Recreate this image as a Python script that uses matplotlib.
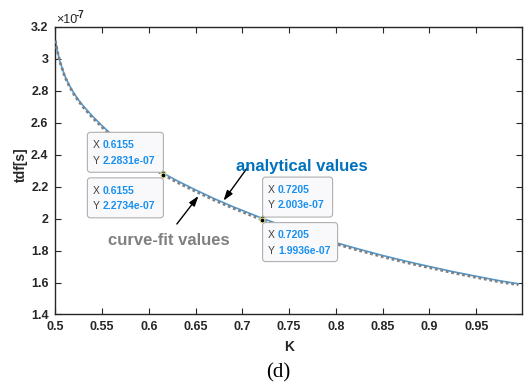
import matplotlib
matplotlib.use("Agg")
import matplotlib.pyplot as plt
from matplotlib.patches import FancyBboxPatch
from matplotlib.transforms import IdentityTransform

# K and tdf (units of 1e-7 s)
k_values = [0.5, 0.502, 0.505, 0.51, 0.515, 0.52, 0.525, 0.53, 0.54, 0.55,
            0.56, 0.57, 0.58, 0.59, 0.6, 0.6155, 0.63, 0.65, 0.67, 0.69,
            0.7205, 0.75, 0.775, 0.8, 0.825, 0.85, 0.875, 0.9, 0.925, 0.95,
            0.975, 0.995]
tdf_analytical = [3.112, 3.051, 2.980, 2.893, 2.832, 2.782, 2.740, 2.703, 2.638, 2.580,
                  2.526, 2.475, 2.428, 2.383, 2.342, 2.2831, 2.237, 2.179, 2.124, 2.074,
                  2.003, 1.941, 1.893, 1.849, 1.808, 1.769, 1.733, 1.700, 1.668, 1.639,
                  1.611, 1.592]
tdf_fit = [3.112, 3.049, 2.977, 2.888, 2.826, 2.775, 2.733, 2.695, 2.629, 2.571,
           2.517, 2.466, 2.419, 2.374, 2.332, 2.2734, 2.227, 2.170, 2.115, 2.065,
           1.9936, 1.932, 1.885, 1.841, 1.800, 1.761, 1.725, 1.693, 1.661, 1.632,
           1.604, 1.586]

# data tips
tip_k = [0.6155, 0.7205]
tip_analytical = [2.2831, 2.003]
tip_fit = [2.2734, 1.9936]
tip_analytical_text = ["2.2831e-07", "2.003e-07"]
tip_fit_text = ["2.2734e-07", "1.9936e-07"]

x_ticks = [0.5, 0.55, 0.6, 0.65, 0.7, 0.75, 0.8, 0.85, 0.9, 0.95]
x_tick_labels = ["0.5", "0.55", "0.6", "0.65", "0.7", "0.75", "0.8", "0.85", "0.9", "0.95"]
y_ticks = [1.4, 1.6, 1.8, 2.0, 2.2, 2.4, 2.6, 2.8, 3.0, 3.2]
y_tick_labels = ["1.4", "1.6", "1.8", "2", "2.2", "2.4", "2.6", "2.8", "3", "3.2"]

plt.rcParams["font.family"] = ["Liberation Sans", "DejaVu Sans"]

AX_COLOR = "#262626"
BLUE = "#4d9bd6"
GRAY = "#808080"
TIP_BLUE = "#1890f0"

fig = plt.figure(figsize=(5.29, 3.84), dpi=100)
ax = fig.add_axes([0.1047, 0.181, 0.883, 0.7495])

ax.plot(k_values, tdf_analytical, color=BLUE, lw=1.2, zorder=2)
ax.plot(k_values, tdf_fit, color=GRAY, lw=2.0, linestyle=(0, (1, 1)), zorder=3)

ax.set_xlim(0.5, 0.9995)
ax.set_ylim(1.4, 3.2)
ax.set_xticks(x_ticks)
ax.set_xticklabels(x_tick_labels, fontweight="bold", fontsize=9)
ax.set_yticks(y_ticks)
ax.set_yticklabels(y_tick_labels, fontweight="bold", fontsize=9)
ax.tick_params(direction="in", length=4, width=0.8, colors=AX_COLOR,
               top=True, right=True, pad=5)
for sp in ax.spines.values():
    sp.set_color(AX_COLOR)
    sp.set_linewidth(1.0)

ax.set_xlabel("K", fontweight="bold", fontsize=10, color=AX_COLOR, labelpad=5)
ax.set_ylabel("tdf[s]", fontweight="bold", fontsize=10, color=AX_COLOR)
ax.yaxis.set_label_coords(-0.059, 0.52)

# exponent label
fig.text(56, 384 - 20, "×10", transform=IdentityTransform(), fontsize=9,
         color=AX_COLOR, va="center", ha="left")
fig.text(76, 384 - 15, "-7", transform=IdentityTransform(), fontsize=7,
         fontweight="bold", color=AX_COLOR, va="center", ha="left")

# data tip markers
ax.plot(tip_k, tip_analytical, "o", ms=3.5, mfc="black", mec="#e0e0a0", mew=0.8, zorder=5)
ax.plot(tip_k, tip_fit, "o", ms=3.5, mfc="black", mec="#e0e0a0", mew=0.8, zorder=5)


def datatip(k, v, value, corner, width, height=40):
    px, py = ax.transData.transform((k, v))
    if corner == "lr":
        x0, y0 = px - width, py + 1
    elif corner == "ur":
        x0, y0 = px - width, py - 3 - height
    elif corner == "ll":
        x0, y0 = px + 1, py + 1
    else:
        x0, y0 = px + 1, py - 3 - height
    box = FancyBboxPatch((x0, y0), width, height,
                         boxstyle="round,pad=0,rounding_size=3",
                         transform=IdentityTransform(), fc="#f9f9fc",
                         ec="#b0b0b0", lw=0.8, zorder=4)
    fig.add_artist(box)
    for i, (lab, val) in enumerate([("X", f"{k:.4f}"), ("Y", value)]):
        yy = y0 + height - 12.7 - i * 15.6
        fig.text(x0 + 5, yy, lab, transform=IdentityTransform(), fontsize=7.5,
                 color="#404040", va="center", ha="left", zorder=6)
        fig.text(x0 + 15.5, yy, val, transform=IdentityTransform(), fontsize=7.5,
                 fontweight="bold", color=TIP_BLUE, va="center", ha="left", zorder=6)


datatip(tip_k[0], tip_analytical[0], tip_analytical_text[0], "lr", 76)
datatip(tip_k[0], tip_fit[0], tip_fit_text[0], "ur", 76)
datatip(tip_k[1], tip_analytical[1], tip_analytical_text[1], "ll", 70)
datatip(tip_k[1], tip_fit[1], tip_fit_text[1], "ul", 75, 39)

arrow = dict(arrowstyle="-|>,head_length=0.6,head_width=0.2", lw=1.0,
             color="black", shrinkA=0, shrinkB=0)
ax.annotate("", xy=(0.6798, 2.112), xytext=(0.7048, 2.314), arrowprops=arrow)
ax.annotate("", xy=(0.653, 2.141), xytext=(0.6299, 1.966), arrowprops=arrow)
ax.text(0.7637, 2.325, "analytical values", fontsize=12, fontweight="bold",
        color="#0072bd", ha="center", va="center")
ax.text(0.6211, 1.86, "curve-fit values", fontsize=12, fontweight="bold",
        color="#808080", ha="center", va="center")

fig.text(278, 384 - 373, "(d)", transform=IdentityTransform(), fontsize=15,
         family="Liberation Serif", ha="center", va="center", color="black")

fig.savefig("out.png", dpi=100)
